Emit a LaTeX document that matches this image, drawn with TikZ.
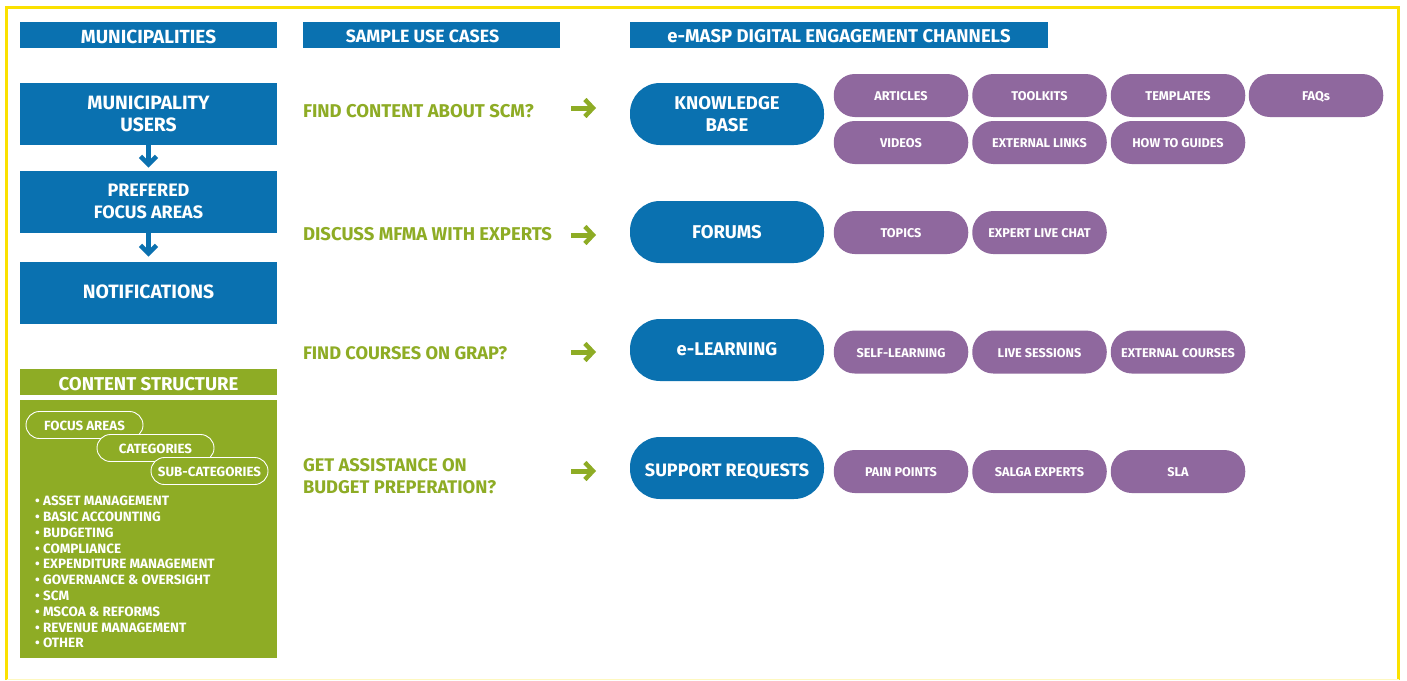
\documentclass[tikz,border=0pt]{standalone}
\usepackage{fontspec}
\setmainfont{Fira Sans}
\usetikzlibrary{arrows.meta}
\definecolor{mblue}{HTML}{0A71B0}
\definecolor{mgreen}{HTML}{8EAC25}
\definecolor{mpurple}{HTML}{8F689E}
\definecolor{myellow}{HTML}{FBE100}
\tikzset{
  x=1pt,y=-1pt,
  bluebox/.style={fill=mblue,draw=none,rectangle,inner sep=0pt,outer sep=0pt},
  greenbox/.style={bluebox,fill=mgreen},
  bluepill/.style={bluebox,rounded corners=30pt},
  boxtext/.style={inner sep=0pt,outer sep=0pt,text=white,align=center},
  purplepill/.style={rectangle,fill=mpurple,rounded corners=21pt,inner sep=0pt,outer sep=0pt,text=white,align=center,minimum width=134.5pt,minimum height=43pt,text height=10.6pt,text depth=0pt,font=\fontsize{12.7}{15}\selectfont\bfseries},
  smallpill/.style={rectangle,draw=white,line width=0.9pt,fill=mgreen,rounded corners=13.5pt,inner sep=0pt,text=white,minimum width=117pt,minimum height=27pt,text height=11.5pt,text depth=0pt,font=\fontsize{13.3}{15}\selectfont\bfseries},
  usecase/.style={anchor=west,inner sep=0pt,outer sep=0pt,align=left,text=mgreen,font=\fontsize{18.5}{22}\selectfont\bfseries},
  greenarrow/.style={draw=mgreen,line width=5pt,-{Straight Barb[length=8pt,width=17pt,line width=4.5pt]}},
  bluearrow/.style={draw=mblue,line width=5.5pt,-{Straight Barb[length=8pt,width=16pt,line width=4.5pt]}},
}
% name, cx, cy, w, h, style, font size, text cy offset, text
\newcommand{\rbox}[9]{%
  \node[#6,minimum width=#4pt,minimum height=#5pt] (#1) at (#2,#3) {};
  \rboxtext{#1}{#7}{#8}{#9}}
\newcommand{\rboxtext}[4]{%
  \node[boxtext,font=\fontsize{#2}{22}\selectfont\bfseries] (#1t) at ([shift={(0,#3)}]#1.center) {#4};}
\begin{document}
\begin{tikzpicture}
\useasboundingbox (0,0) rectangle (1407,680);
% frame
\fill[white] (0,0) rectangle (1407,680);
\draw[myellow,line width=2.6pt] (6.5,680) -- (6.5,7.5) -- (1398.5,7.5) -- (1398.5,680);
\draw[myellow!25,line width=1pt] (6.5,679.5) -- (1398.5,679.5);

% headers
\rbox{hmun}{148.5}{35}{257}{26}{bluebox}{19}{1.5}{MUNICIPALITIES}
\node[bluebox,minimum width=257pt,minimum height=26pt] (huse) at (431.5,35) {};
\node[boxtext,font=\fontsize{17.8}{22}\selectfont\bfseries] (huset) at (422.5,36.5) {SAMPLE USE CASES};
\rbox{hchan}{839}{35}{418}{26}{bluebox}{18.5}{1.5}{e-MASP DIGITAL ENGAGEMENT CHANNELS}

% left column
\rbox{users}{148.5}{114}{257}{62}{bluebox}{19.3}{-0.5}{MUNICIPALITY\\USERS}
\rbox{pref}{148.5}{201.5}{257}{62}{bluebox}{18}{-0.5}{PREFERED\\FOCUS AREAS}
\rbox{notif}{148.5}{292.5}{257}{62}{bluebox}{19.3}{-1}{NOTIFICATIONS}
\draw[bluearrow,shorten >=3pt] (users.south) -- (pref.north);
\draw[bluearrow,shorten >=5pt] (pref.south) -- (notif.north);

% content structure
\rbox{hcont}{148.5}{382}{257}{26}{greenbox}{18.6}{2}{CONTENT STRUCTURE}
\node[greenbox,minimum width=257pt,minimum height=258pt] (cbody) at (148.5,529) {};
\node[smallpill] (pfocus) at (84.5,425) {FOCUS AREAS};
\node[smallpill] (pcat) at (155.5,448) {CATEGORIES};
\node[smallpill] (psub) at (209.5,471) {SUB-CATEGORIES};
\node[anchor=north west,inner sep=0pt,align=left,text=white,font=\fontsize{13.5}{15.8}\selectfont\bfseries] (clist) at (35,496) {%
• ASSET MANAGEMENT\\
• BASIC ACCOUNTING\\
• BUDGETING\\
• COMPLIANCE\\
• EXPENDITURE MANAGEMENT\\
• GOVERNANCE \& OVERSIGHT\\
• SCM\\
• MSCOA \& REFORMS\\
• REVENUE MANAGEMENT\\
• OTHER};

% use cases
\node[usecase] (u1) at (303,111.5) {FIND CONTENT ABOUT SCM?};
\node[usecase] (u2) at (303,234) {DISCUSS MFMA WITH EXPERTS};
\node[usecase,font=\fontsize{18.2}{22}\selectfont\bfseries] (u3) at (303,353.5) {FIND COURSES ON GRAP?};
\node[usecase,font=\fontsize{18.3}{22}\selectfont\bfseries] (u4) at (303,476) {GET ASSISTANCE ON\\BUDGET PREPERATION?};

% channels
\rbox{kb}{727}{114}{194}{62}{bluepill}{18.5}{0.3}{KNOWLEDGE\\BASE}
\rbox{forums}{727}{232}{194}{62}{bluepill}{18.5}{0.3}{FORUMS}
\rbox{el}{727}{350}{194}{62}{bluepill}{18.4}{-0.7}{e-LEARNING}
\rbox{sr}{727}{468}{194}{62}{bluepill}{18}{3.3}{SUPPORT REQUESTS}

% arrows
\coordinate (a1s) at (571,108); \coordinate (a1e) at (596,108);
\coordinate (a2s) at (571,235); \coordinate (a2e) at (596,235);
\coordinate (a3s) at (571,352); \coordinate (a3e) at (596,352);
\coordinate (a4s) at (571,471); \coordinate (a4e) at (596,471);
\draw[greenarrow] (a1s) -- (a1e);
\draw[greenarrow] (a2s) -- (a2e);
\draw[greenarrow] (a3s) -- (a3e);
\draw[greenarrow] (a4s) -- (a4e);

% purple pills
\node[purplepill] (p11) at (901,95.5) {ARTICLES};
\node[purplepill] (p12) at (1039.5,95.5) {TOOLKITS};
\node[purplepill] (p13) at (1178,95.5) {TEMPLATES};
\node[purplepill] (p14) at (1316,95.5) {FAQs};
\node[purplepill] (p15) at (901,142.5) {VIDEOS};
\node[purplepill] (p16) at (1039.5,142.5) {EXTERNAL LINKS};
\node[purplepill] (p17) at (1178,142.5) {HOW TO GUIDES};
\node[purplepill] (p21) at (901,232.5) {TOPICS};
\node[purplepill] (p22) at (1039.5,232.5) {EXPERT LIVE CHAT};
\node[purplepill] (p31) at (901,352) {SELF-LEARNING};
\node[purplepill] (p32) at (1039.5,352) {LIVE SESSIONS};
\node[purplepill] (p33) at (1178,352) {EXTERNAL COURSES};
\node[purplepill] (p41) at (901,471.5) {PAIN POINTS};
\node[purplepill] (p42) at (1039.5,471.5) {SALGA EXPERTS};
\node[purplepill] (p43) at (1178,471.5) {SLA};
\end{tikzpicture}
\end{document}
